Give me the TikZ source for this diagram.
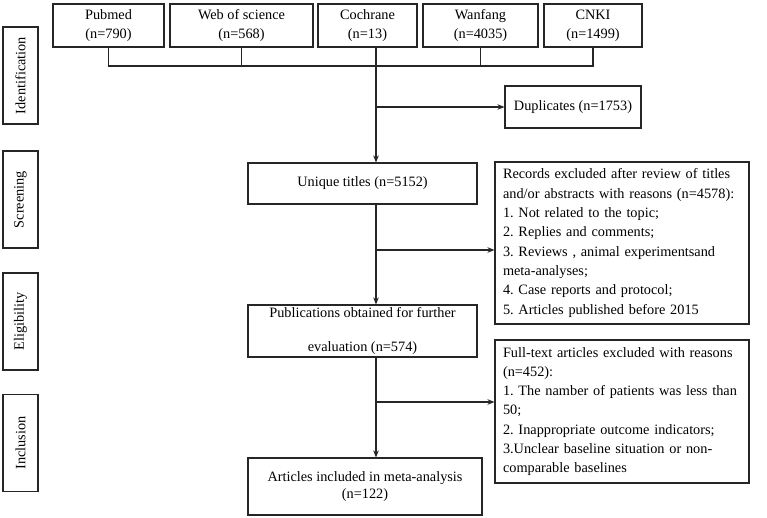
\documentclass[tikz,border=0pt]{standalone}
\usepackage{fontspec}
\setmainfont{Liberation Serif}
\usetikzlibrary{arrows.meta}
\frenchspacing
\begin{document}
\begin{tikzpicture}[x=1pt,y=-1pt,
  font=\fontsize{14.3}{19.3}\selectfont\frenchspacing,
  box/.style={draw=black!85, line width=1.1pt, inner sep=0pt, align=center},
  sidebox/.style={box, rotate=90, minimum width=97pt, minimum height=35pt},
  lbox/.style={box, align=left, text width=238pt, minimum width=254pt},
  conn/.style={draw=black!85, line width=1.1pt},
  arr/.style={conn, -{Stealth[length=7pt,width=5.5pt]}}]
\useasboundingbox (0,0) rectangle (767,518);
% side labels
\node[sidebox] (idn) at (20.5,75.5) {Identification};
\node[sidebox] (scr) at (20.5,199.5) {Screening};
\node[sidebox] (eli) at (20.5,321.5) {Eligibility};
\node[sidebox] (inc) at (20.5,443) {Inclusion};
% databases
\node[box, minimum width=111pt, minimum height=43pt] (pub) at (108.5,25.5) {Pubmed\\(n=790)};
\node[box, minimum width=143pt, minimum height=43pt] (wos) at (241.5,25.5) {Web of science\\(n=568)};
\node[box, minimum width=99pt, minimum height=43pt] (coch) at (367.5,25.5) {Cochrane\\(n=13)};
\node[box, minimum width=115pt, minimum height=43pt] (wan) at (480.5,25.5) {Wanfang\\(n=4035)};
\node[box, minimum width=98pt, minimum height=43pt] (cnki) at (593,25.5) {CNKI\\(n=1499)};
\coordinate (bus) at (376,66);
\node[box, minimum width=136pt, minimum height=42pt] (dup) at (573,107) {Duplicates (n=1753)};
% main column
\node[box, minimum width=229pt, minimum height=41pt] (uniq) at (362.5,183.5) {Unique titles (n=5152)};
\node[lbox, minimum height=162pt] (rec) at (622,243) {Records excluded after review of titles\\
and/or abstracts with reasons (n=4578):\\
1. Not related to the topic;\\
2. Replies and comments;\\
3. Reviews , animal experimentsand\\
meta-analyses;\\
4. Case reports and protocol;\\
5. Articles published before 2015};
\node[box, minimum width=229pt, minimum height=52pt] (pubs) at (362.5,331) {Publications obtained for further\\[14pt]evaluation (n=574)};
\node[lbox, minimum height=143pt] (full) at (622,411.5) {Full-text articles excluded with reasons\\
(n=452):\\
1. The namber of patients was less than\\
50;\\
2. Inappropriate outcome indicators;\\
3.Unclear baseline situation or non-\\
comparable baselines};
\node[box, minimum width=234pt, minimum height=57pt] (art) at (365,486.5) {Articles included in meta-analysis\\[-2pt](n=122)};
\coordinate (r1) at (376,250);
\coordinate (r2) at (376,402);
% connectors
\draw[conn] (pub.south) -- (pub.south |- bus) -- (cnki.south |- bus) -- (cnki.south);
\draw[conn] (wos.south) -- (wos.south |- bus);
\draw[conn] (wan.south) -- (wan.south |- bus);
\draw[conn] (coch.south -| bus) -- (bus);
\draw[arr] (bus) -- (uniq.north -| bus);
\draw[arr] (bus |- dup.west) -- (dup.west);
\draw[arr] (uniq.south -| bus) -- (pubs.north -| bus);
\draw[arr] (r1) -- (rec.west |- r1);
\draw[arr] (pubs.south -| bus) -- (art.north -| bus);
\draw[arr] (r2) -- (full.west |- r2);
\end{tikzpicture}
\end{document}
